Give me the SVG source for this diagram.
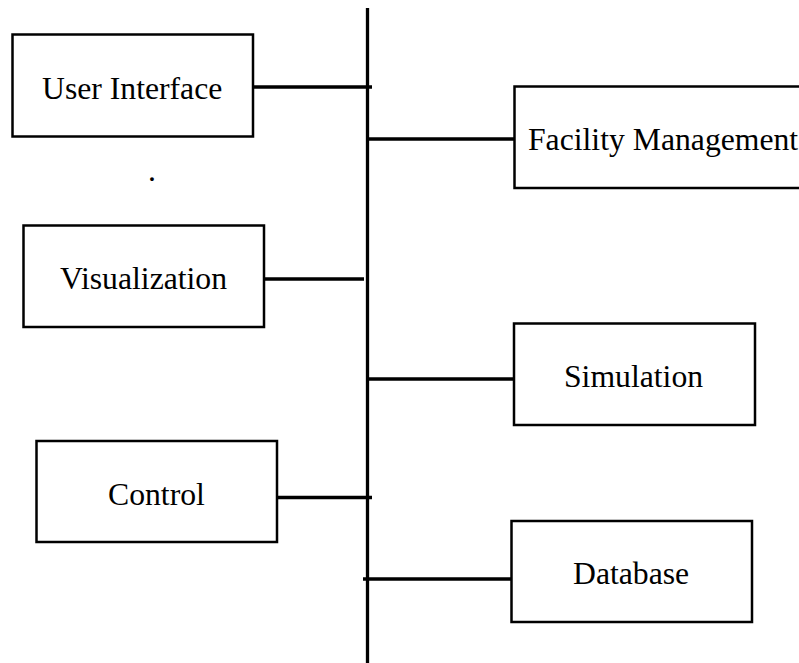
<svg xmlns="http://www.w3.org/2000/svg" width="799" height="663" viewBox="0 0 799 663">
<style>
.box{fill:#fff;stroke:#000;stroke-width:2.5}
.lbl{font-family:"Liberation Serif","Times New Roman",serif;font-size:31.7px;fill:#000}
.con line{stroke:#000;stroke-width:3.3}
</style>
<rect width="799" height="663" fill="#fff"/>
<g class="con" id="connectors">
<line x1="367.5" y1="8" x2="367.5" y2="663"/>
<line x1="253" y1="87" x2="372" y2="87"/>
<line x1="367.5" y1="139" x2="514" y2="139"/>
<line x1="264" y1="279" x2="364" y2="279"/>
<line x1="367.5" y1="379" x2="515" y2="379"/>
<line x1="277" y1="497.5" x2="372" y2="497.5"/>
<line x1="363" y1="579" x2="515" y2="579"/>
</g>
<g id="user-interface">
<rect class="box" x="12.5" y="34.5" width="240.5" height="102"/>
<text class="lbl" x="42" y="98.5">User Interface</text>
</g>
<g id="facility-management">
<rect class="box" x="514.5" y="86.5" width="300" height="101.5"/>
<text class="lbl" x="528" y="149.5">Facility Management</text>
</g>
<text class="lbl" x="148" y="181">.</text>
<g id="visualization">
<rect class="box" x="23.5" y="225.5" width="240.5" height="101.5"/>
<text class="lbl" x="60" y="288.5">Visualization</text>
</g>
<g id="simulation">
<rect class="box" x="514" y="323.5" width="241" height="101.5"/>
<text class="lbl" x="564" y="386.5">Simulation</text>
</g>
<g id="control">
<rect class="box" x="36.5" y="441" width="240.5" height="101"/>
<text class="lbl" x="108" y="504.5">Control</text>
</g>
<g id="database">
<rect class="box" x="511.5" y="521" width="240.5" height="101"/>
<text class="lbl" x="573" y="583.5">Database</text>
</g>
</svg>
